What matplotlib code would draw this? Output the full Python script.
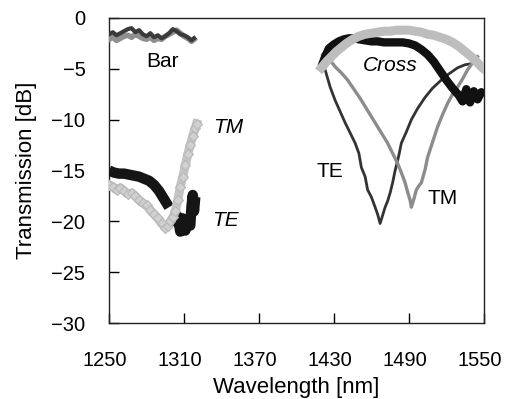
import matplotlib
matplotlib.use("Agg")
import matplotlib.pyplot as plt
import matplotlib.transforms as mtransforms
import numpy as np

plt.rcParams['font.family'] = ['Liberation Sans', 'DejaVu Sans']

# "Bar" port, 1310 band
bar_wl = [1250, 1253, 1256, 1259, 1262, 1265, 1268, 1271, 1274, 1277, 1280, 1283,
          1286, 1289, 1292, 1295, 1298, 1301, 1304, 1307, 1310, 1313, 1316, 1318]
bar_te = [-1.6, -1.4, -1.7, -1.5, -1.3, -1.1, -1.0, -1.4, -1.2, -1.6, -1.8, -1.5,
          -1.9, -1.7, -2.0, -1.8, -1.5, -1.1, -1.3, -1.6, -1.7, -1.9, -2.2, -2.0]
bar_tm = [-2.1, -1.9, -2.2, -2.0, -1.8, -1.7, -1.9, -1.6, -1.8, -2.0, -2.1, -1.9,
          -2.2, -2.0, -2.1, -1.8, -1.6, -1.4, -1.2, -1.5, -1.8, -2.0, -2.3, -2.1]

# cross port, 1310 band
low_te_wl = [1250, 1254, 1258, 1262, 1266, 1270, 1274, 1278, 1282, 1286, 1290, 1293,
             1296, 1298, 1300, 1303, 1305, 1307, 1309, 1311, 1313, 1315, 1316, 1317,
             1318, 1319]
low_te = [-15.0, -15.2, -15.3, -15.3, -15.4, -15.5, -15.6, -15.8, -16.0, -16.4, -17.0, -17.6,
          -18.2, -18.6, np.nan, -20.5, -19.5, -21.0, -19.7, -20.9, -19.8, -20.4, -18.5, -17.4,
          -19.0, -17.6]
low_tm_wl = [1250, 1253, 1256, 1259, 1262, 1265, 1268, 1271, 1274, 1277, 1280, 1283,
             1286, 1289, 1292, 1295, 1297, 1299, 1301, 1303, 1305, 1307, 1309, 1311,
             1313, 1315, 1317, 1319, 1320]
low_tm = [-16.4, -16.6, -16.9, -16.7, -17.0, -17.3, -17.2, -17.5, -17.9, -18.2, -18.4, -18.9,
          -19.3, -19.7, -20.2, -20.6, -20.4, -20.0, -19.6, -19.0, -17.9, -16.6, -15.6, -14.5,
          -13.4, -12.5, -11.6, -10.8, -10.4]

# cross port, 1490 band
cross_tm_wl = [1420, 1424, 1428, 1432, 1436, 1440, 1445, 1450, 1455, 1460, 1465, 1470,
               1475, 1480, 1485, 1490, 1495, 1500, 1505, 1510, 1515, 1520, 1525, 1530,
               1535, 1540, 1545, 1548, 1550]
cross_tm = [-4.9, -4.3, -3.8, -3.3, -2.9, -2.5, -2.1, -1.8, -1.6, -1.5, -1.4, -1.3,
            -1.3, -1.2, -1.2, -1.2, -1.3, -1.4, -1.6, -1.7, -1.9, -2.1, -2.4, -2.8,
            -3.3, -3.8, -4.4, -4.8, -5.0]
cross_te_wl = [1420, 1423, 1426, 1430, 1434, 1438, 1442, 1446, 1450, 1455, 1460, 1465,
               1470, 1475, 1480, 1485, 1490, 1495, 1500, 1505, 1510, 1515, 1520, 1525,
               1530, 1533, 1536, 1539, 1542, 1545, 1548, 1550]
cross_te = [-4.8, -3.8, -3.0, -2.6, -2.3, -2.1, -2.0, -2.0, -2.1, -2.2, -2.3, -2.3,
            -2.4, -2.4, -2.4, -2.4, -2.5, -2.7, -3.1, -3.6, -4.3, -5.2, -6.1, -6.9,
            -7.6, -8.2, -7.0, -8.3, -7.2, -8.0, -7.3, -7.6]

# bar port dips, 1490 band
dip_te_wl = [1420, 1423, 1427, 1431, 1435, 1439, 1443, 1447, 1450, 1452, 1455, 1457,
             1460, 1463, 1465, 1467, 1469, 1471, 1473, 1475, 1477, 1479, 1482, 1484,
             1488, 1492, 1497, 1503, 1509, 1516, 1522, 1529, 1535, 1540]
dip_te = [-4.5, -5.1, -6.8, -8.1, -9.2, -10.3, -11.3, -12.3, -13.3, -14.7, -15.6, -16.9,
          -17.6, -18.6, -19.3, -20.2, -19.4, -18.6, -18.0, -17.2, -16.2, -15.0, -13.5, -12.3,
          -11.2, -10.0, -8.9, -7.8, -6.9, -6.1, -5.5, -4.9, -4.6, -4.5]
dip_tm_wl = [1421, 1426, 1431, 1436, 1441, 1446, 1451, 1455, 1459, 1463, 1468, 1473,
             1477, 1481, 1484, 1487, 1489, 1491, 1492, 1494, 1496, 1498, 1500, 1503,
             1505, 1509, 1513, 1517, 1521, 1525, 1529, 1533, 1537, 1541, 1545]
dip_tm = [-3.6, -4.0, -4.8, -5.4, -6.1, -7.0, -7.9, -8.7, -9.5, -10.3, -11.3, -12.3,
          -13.3, -14.3, -15.2, -16.2, -17.1, -17.9, -18.6, -17.8, -16.9, -16.5, -16.2, -14.9,
          -13.7, -12.2, -10.7, -9.5, -8.4, -7.5, -6.8, -6.0, -5.1, -4.4, -3.8]

x_ticks = [1250, 1310, 1370, 1430, 1490, 1550]
y_ticks = [0, -5, -10, -15, -20, -25, -30]
y_labels = ["0", "\u22125", "\u221210", "\u221215", "\u221220", "\u221225", "\u221230"]

fig = plt.figure(figsize=(5.05, 3.99), dpi=100)
ax = fig.add_axes([0.216, 0.19, 0.742, 0.765])

# thin dips first, thick traces on top
ax.plot(dip_te_wl, dip_te, color="#333333", lw=2.0, zorder=2)
ax.plot(dip_tm_wl, dip_tm, color="#8c8c8c", lw=2.4, zorder=2)

ax.plot(cross_te_wl, cross_te, color="#111111", lw=6.0, zorder=3, solid_capstyle="butt")
ax.plot(cross_tm_wl, cross_tm, color="#bdbdbd", lw=6.5, zorder=4)

ax.plot(bar_wl, bar_tm, color="#8f8f8f", lw=4.0, zorder=3)
ax.plot(bar_wl, bar_te, color="#3a3a3a", lw=3.0, zorder=4)

ax.plot(low_te_wl, low_te, color="#151515", lw=7.5, zorder=3, solid_capstyle="butt")
ax.plot(low_tm_wl, low_tm, color="#c4c4c4", lw=6.5, marker="D", ms=5,
        mfc="#d0d0d0", mec="#b8b8b8", mew=0.8, zorder=4)

# curve labels
ax.text(1293, -4.3, "Bar", fontsize=15, ha="center", va="center")
ax.text(1345, -10.8, "TM", fontsize=15, style="italic", ha="center", va="center")
ax.text(1343.5, -19.9, "TE", fontsize=15, style="italic", ha="center", va="center")
ax.text(1475, -4.7, "Cross", fontsize=15, style="italic", ha="center", va="center")
ax.text(1426.4, -15.1, "TE", fontsize=15, ha="center", va="center")
ax.text(1517, -17.7, "TM", fontsize=15, ha="center", va="center")

ax.set_xlim(1250, 1550)
ax.set_ylim(-30, 0)
ax.set_xticks(x_ticks)
ax.set_yticks(y_ticks)
ax.set_yticklabels(y_labels)
ax.tick_params(axis="both", direction="in", length=7, width=1, labelsize=14.5,
               top=False, right=False)
ax.tick_params(axis="x", pad=20)
ax.tick_params(axis="y", pad=17)
for s in ax.spines.values():
    s.set_linewidth(1.0)
    s.set_color("#222222")

# x tick labels sit a few pixels left of their ticks in the original
shift = mtransforms.ScaledTranslation(-4 / 100, 0, fig.dpi_scale_trans)
for lbl in ax.get_xticklabels():
    lbl.set_transform(lbl.get_transform() + shift)

ax.set_xlabel("Wavelength [nm]", fontsize=16, labelpad=5)
ax.set_ylabel("Transmission [dB]", fontsize=16, labelpad=10)

fig.savefig("out.png", dpi=100)
